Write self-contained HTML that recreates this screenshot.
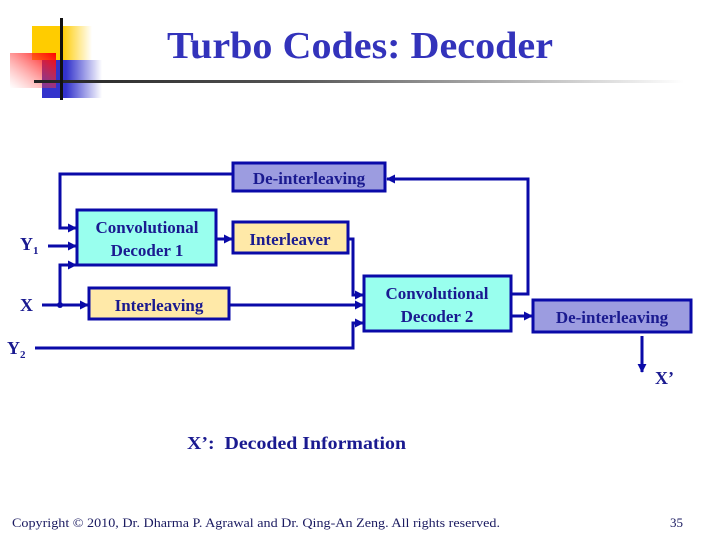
<!DOCTYPE html>
<html><head><meta charset="utf-8"><style>
html,body{margin:0;padding:0;background:#fff;}
svg{display:block;}
text{font-family:"Liberation Serif",serif;}
</style></head><body>
<svg width="720" height="540" viewBox="0 0 720 540" xmlns="http://www.w3.org/2000/svg">
<defs>
<linearGradient id="gy" x1="0" x2="1"><stop offset="0" stop-color="#ffcc00"/><stop offset="0.5" stop-color="#ffcc00"/><stop offset="1" stop-color="#ffcc00" stop-opacity="0"/></linearGradient>
<linearGradient id="gb" x1="0" x2="1"><stop offset="0" stop-color="#3333cc"/><stop offset="0.4" stop-color="#3333cc"/><stop offset="1" stop-color="#3333cc" stop-opacity="0"/></linearGradient>
<linearGradient id="gr" x1="1" y1="0" x2="0" y2="1"><stop offset="0" stop-color="#ff0000"/><stop offset="1" stop-color="#ff6666" stop-opacity="0"/></linearGradient>
<linearGradient id="gl" x1="0" x2="1"><stop offset="0" stop-color="#222"/><stop offset="0.4" stop-color="#555"/><stop offset="1" stop-color="#fff"/></linearGradient>
<marker id="a" viewBox="0 0 10 10" refX="9" refY="5" markerWidth="3" markerHeight="3" orient="auto"><path d="M0,0L10,5L0,10z" fill="#0a0aa8"/></marker>
</defs>
<rect x="32" y="26" width="60" height="34" fill="url(#gy)"/>
<rect x="42" y="60" width="60" height="38" fill="url(#gb)"/>
<rect x="10" y="53" width="46" height="35" fill="url(#gr)"/>
<rect x="34" y="80" width="650" height="3" fill="url(#gl)"/>
<rect x="60" y="18" width="3" height="82" fill="#111"/>
<text x="167" y="58" font-size="38" font-weight="bold" fill="#3333bb" textLength="386" lengthAdjust="spacingAndGlyphs">Turbo Codes: Decoder</text>

<g stroke="#0a0aa8" stroke-width="3" fill="none">
<polyline points="233,174 60,174 60,228 76,228" marker-end="url(#a)"/>
<polyline points="511,294 528,294 528,179 387,179" marker-end="url(#a)"/>
<line x1="48" y1="246" x2="76" y2="246" marker-end="url(#a)"/>
<line x1="42" y1="305" x2="88" y2="305" marker-end="url(#a)"/>
<polyline points="60,305 60,265 76,265" marker-end="url(#a)"/>
<line x1="216" y1="239" x2="232" y2="239" marker-end="url(#a)"/>
<polyline points="348,239 353,239 353,295 363,295" marker-end="url(#a)"/>
<line x1="229" y1="305" x2="363" y2="305" marker-end="url(#a)"/>
<polyline points="35,348 353,348 353,323 363,323" marker-end="url(#a)"/>
<line x1="511" y1="316" x2="532" y2="316" marker-end="url(#a)"/>
<line x1="642" y1="336" x2="642" y2="372" marker-end="url(#a)"/>
</g>
<circle cx="60" cy="305" r="3" fill="#0a0aa8"/>

<g stroke="#0a0aa8" stroke-width="3">
<rect x="233" y="163" width="152" height="28" fill="#9c9ce0"/>
<rect x="77" y="210" width="139" height="55" fill="#99ffee"/>
<rect x="233" y="222" width="115" height="31" fill="#ffe9a8"/>
<rect x="89" y="288" width="140" height="31" fill="#ffe9a8"/>
<rect x="364" y="276" width="147" height="55" fill="#99ffee"/>
<rect x="533" y="300" width="158" height="32" fill="#9c9ce0"/>
</g>
<g font-size="17" font-weight="bold" fill="#1a1a90" text-anchor="middle">
<text x="309" y="184">De-interleaving</text>
<text x="147" y="233">Convolutional</text>
<text x="147" y="256">Decoder 1</text>
<text x="290" y="245">Interleaver</text>
<text x="159" y="311">Interleaving</text>
<text x="437" y="299">Convolutional</text>
<text x="437" y="322">Decoder 2</text>
<text x="612" y="323">De-interleaving</text>
</g>
<g font-size="18" fill="#1a1a90" font-weight="bold">
<text x="20" y="250">Y<tspan font-size="11" dy="4">1</tspan></text>
<text x="20" y="311">X</text>
<text x="7" y="354">Y<tspan font-size="11" dy="4">2</tspan></text>
<text x="655" y="384">X’</text>
<text x="187" y="449" textLength="219" lengthAdjust="spacingAndGlyphs" style="white-space:pre">X’:  Decoded Information</text>
</g>
<text x="12" y="527" font-size="13" fill="#1a1a60" textLength="488" lengthAdjust="spacingAndGlyphs">Copyright © 2010, Dr. Dharma P. Agrawal and Dr. Qing-An Zeng. All rights reserved.</text>
<text x="670" y="527" font-size="13" fill="#1a1a60">35</text>
</svg>
</body></html>
